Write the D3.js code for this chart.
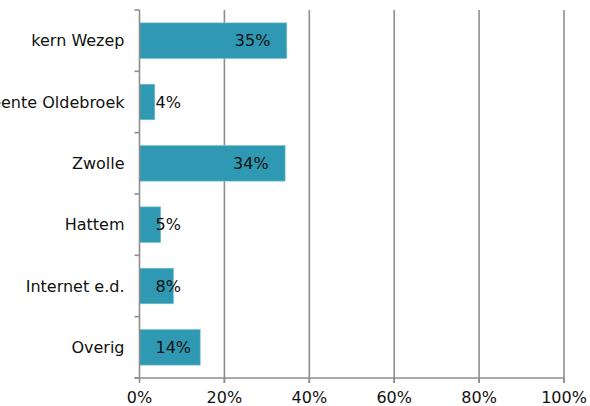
<!DOCTYPE html>
<html><head><meta charset="utf-8">
<script src="https://cdn.jsdelivr.net/npm/d3@7"></script>
<style>body{margin:0;background:#fff}svg{display:block}</style>
</head><body>
<svg id="c" width="590" height="406"></svg>
<script>
const categories = ["kern Wezep","gemeente Oldebroek","Zwolle","Hattem","Internet e.d.","Overig"];
const values = [0.347,0.036,0.343,0.05,0.08,0.143];
const xTicks = [0,0.2,0.4,0.6,0.8,1.0];

const svg = d3.select("#c");
const m = {left:139.5, right:26, top:10, bottom:28};
const W = 590, H = 406;
const x = d3.scaleLinear().domain([0,1]).range([m.left, W - m.right]);
const y = d3.scaleBand().domain(categories).range([m.top, H - m.bottom]).paddingInner(0.42).paddingOuter(0.21);
const font = "'DejaVu Sans', Verdana, sans-serif";
const grid = "#8e8e8e";

// gridlines
svg.append("g").selectAll("line").data(xTicks.slice(1)).join("line")
  .attr("x1", d=>x(d)).attr("x2", d=>x(d)).attr("y1", m.top).attr("y2", H - m.bottom + 5)
  .attr("stroke", grid).attr("stroke-width", 1.6);

// bars
svg.append("g").selectAll("rect").data(categories).join("rect")
  .attr("x", x(0)).attr("y", d=>y(d))
  .attr("width", (d,i)=>x(values[i]) - x(0)).attr("height", y.bandwidth())
  .attr("fill", "#2f98b2").attr("stroke", "#7cc2d3").attr("stroke-width", 0.6);

// y axis
const step = y.step();
const yb = [];
for (let i = 0; i <= categories.length; i++) yb.push(m.top + i*step);
svg.append("line").attr("x1", x(0)).attr("x2", x(0)).attr("y1", m.top).attr("y2", H - m.bottom)
  .attr("stroke", grid).attr("stroke-width", 1.6);
svg.append("g").selectAll("line").data(yb).join("line")
  .attr("x1", x(0) - 5).attr("x2", x(0)).attr("y1", d=>d).attr("y2", d=>d)
  .attr("stroke", grid).attr("stroke-width", 1.6);

// x axis
svg.append("line").attr("x1", x(0) - 5).attr("x2", x(1)).attr("y1", H - m.bottom).attr("y2", H - m.bottom)
  .attr("stroke", grid).attr("stroke-width", 1.6);
svg.append("g").selectAll("line").data(xTicks).join("line")
  .attr("x1", d=>x(d)).attr("x2", d=>x(d)).attr("y1", H - m.bottom).attr("y2", H - m.bottom + 5)
  .attr("stroke", grid).attr("stroke-width", 1.6);
svg.append("g").selectAll("text").data(xTicks).join("text")
  .attr("x", d=>x(d)).attr("y", H - 3.5).attr("text-anchor", "middle")
  .attr("font-family", font).attr("font-size", 16).attr("fill", "#111")
  .text(d3.format(".0%"));

// category labels
svg.append("g").selectAll("text").data(categories).join("text")
  .attr("x", x(0) - 15).attr("y", d=>y(d) + y.bandwidth()/2).attr("dy", "0.35em")
  .attr("text-anchor", "end").attr("font-family", font).attr("font-size", 16).attr("fill", "#111")
  .text(d=>d);

// value labels
svg.append("g").selectAll("text").data(categories).join("text")
  .attr("x", (d,i)=>Math.max(x(values[i]) - 52, x(0) + 16)).attr("y", d=>y(d) + y.bandwidth()/2).attr("dy", "0.35em")
  .attr("text-anchor", "start").attr("font-family", font).attr("font-size", 16).attr("fill", "#111")
  .text((d,i)=>d3.format(".0%")(values[i]));
</script>
</body></html>
